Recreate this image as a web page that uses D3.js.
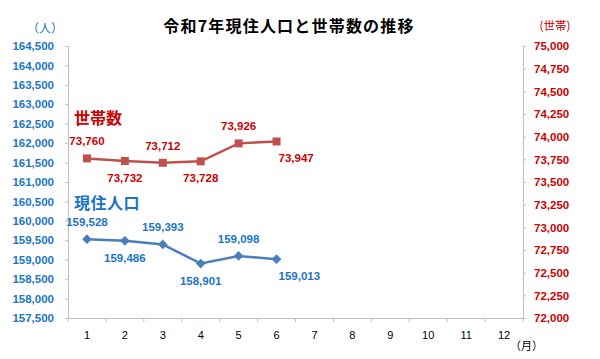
<!DOCTYPE html>
<html><head><meta charset="utf-8">
<script src="https://cdn.jsdelivr.net/npm/d3@7"></script>
<style>body{margin:0;background:#fff}svg{display:block}text{font-family:"Liberation Sans",Arial,"Noto Sans CJK JP",sans-serif}</style>
</head><body><svg id="c" width="600" height="359"></svg>
<script>
const months = ["1","2","3","4","5","6","7","8","9","10","11","12"];
const households = [73760, 73732, 73712, 73728, 73926, 73947];
const population = [159528, 159486, 159393, 158901, 159098, 159013];
const leftTicks = [157500,158000,158500,159000,159500,160000,160500,161000,161500,162000,162500,163000,163500,164000,164500];
const rightTicks = [72000,72250,72500,72750,73000,73250,73500,73750,74000,74250,74500,74750,75000];
// label placement: 1 = above, -1 = below, 0 = right-below
const hhPos = [1,-1,1,-1,1,0];
const popPos = [1,-1,1,-1,1,0];

const svg = d3.select("#c");
const L = 68, R = 523, T = 46, B = 318;
const x = d3.scaleBand().domain(months).range([L, R]);
const yL = d3.scaleLinear().domain([157500,164500]).range([B,T]);
const yR = d3.scaleLinear().domain([72000,75000]).range([B,T]);
const fmt = d3.format(",");
const axisCol = "#bfbfbf";
const blueTxt = "#1a75c9", redTxt = "#cc0000";
const blueLine = "#4a7ebb", redLine = "#c0504d";

const gl = svg.append("g").attr("transform",`translate(${L},0)`)
  .call(d3.axisLeft(yL).tickValues(leftTicks).tickFormat(fmt).tickSize(3).tickPadding(11));
gl.selectAll("path,line").attr("stroke",axisCol);
gl.selectAll("text").attr("fill",blueTxt).attr("font-size",11.5).attr("font-weight","bold");
const gr = svg.append("g").attr("transform",`translate(${R},0)`)
  .call(d3.axisRight(yR).tickValues(rightTicks).tickFormat(fmt).tickSize(3).tickPadding(8));
gr.selectAll("path,line").attr("stroke",axisCol);
gr.selectAll("text").attr("fill",redTxt).attr("font-size",11.5).attr("font-weight","bold");
const gb = svg.append("g").attr("transform",`translate(0,${B})`)
  .call(d3.axisBottom(x).tickSize(0).tickPadding(13));
gb.select("path").attr("stroke",axisCol);
gb.selectAll("text").attr("fill","#000").attr("font-size",11);
gb.selectAll(".bnd").data(months.concat(["_"])).enter().append("line")
  .attr("x1",(d,i)=>L+i*x.bandwidth()).attr("x2",(d,i)=>L+i*x.bandwidth())
  .attr("y1",0).attr("y2",4).attr("stroke",axisCol);

const cx = i => x(months[i]) + x.bandwidth()/2;

svg.append("path").datum(households)
  .attr("d", d3.line().x((d,i)=>cx(i)).y(d=>yR(d)))
  .attr("fill","none").attr("stroke",redLine).attr("stroke-width",2.5);
svg.selectAll(".sq").data(households).enter().append("rect")
  .attr("x",(d,i)=>cx(i)-4).attr("y",d=>yR(d)-4).attr("width",8).attr("height",8).attr("fill",redLine);
svg.append("path").datum(population)
  .attr("d", d3.line().x((d,i)=>cx(i)).y(d=>yL(d)))
  .attr("fill","none").attr("stroke",blueLine).attr("stroke-width",2.5);
svg.selectAll(".dm").data(population).enter().append("path")
  .attr("d",d3.symbol(d3.symbolDiamond2,60)())
  .attr("transform",(d,i)=>`translate(${cx(i)},${yL(d)})`).attr("fill",blueLine);

function labels(data, pos, ys, col){
  svg.selectAll(null).data(data).enter().append("text")
    .attr("x",(d,i)=>pos[i]===0 ? cx(i)+2 : cx(i))
    .attr("y",(d,i)=>pos[i]===1 ? ys(d)-13 : (pos[i]===-1 ? ys(d)+21 : ys(d)+21))
    .attr("text-anchor",(d,i)=>pos[i]===0?"start":"middle")
    .attr("fill",col).attr("font-size",11.5).attr("font-weight","bold").text(d=>fmt(d));
}
labels(households, hhPos, yR, redTxt);
labels(population, popPos, yL, blueTxt);

svg.append("text").attr("x",289).attr("y",32).attr("text-anchor","middle").attr("font-size",16)
  .attr("letter-spacing",1.2)
  .attr("font-weight","bold").style("font-family","'Noto Sans CJK JP'").attr("fill","#000").text("令和7年現住人口と世帯数の推移");
svg.append("text").attr("x",45).attr("y",33).attr("text-anchor","middle").attr("font-size",12)
  .style("font-family","'Noto Sans CJK JP'").attr("fill",blueTxt).text("（人）");
svg.append("text").attr("x",555).attr("y",30).attr("text-anchor","middle").attr("font-size",11.5)
  .style("font-family","'Noto Sans CJK JP'").attr("fill",redTxt).text("(世帯)");
svg.append("text").attr("x",74).attr("y",124).attr("font-size",16).attr("font-weight","bold")
  .style("font-family","'Noto Sans CJK JP'").attr("fill",redTxt).text("世帯数");
svg.append("text").attr("x",74).attr("y",209).attr("font-size",16).attr("font-weight","bold")
  .attr("letter-spacing",0.5)
  .style("font-family","'Noto Sans CJK JP'").attr("fill",blueTxt).text("現住人口");
svg.append("text").attr("x",510).attr("y",350).attr("font-size",11)
  .style("font-family","'Noto Sans CJK JP'").attr("fill","#000").text("（月）");
</script></body></html>
